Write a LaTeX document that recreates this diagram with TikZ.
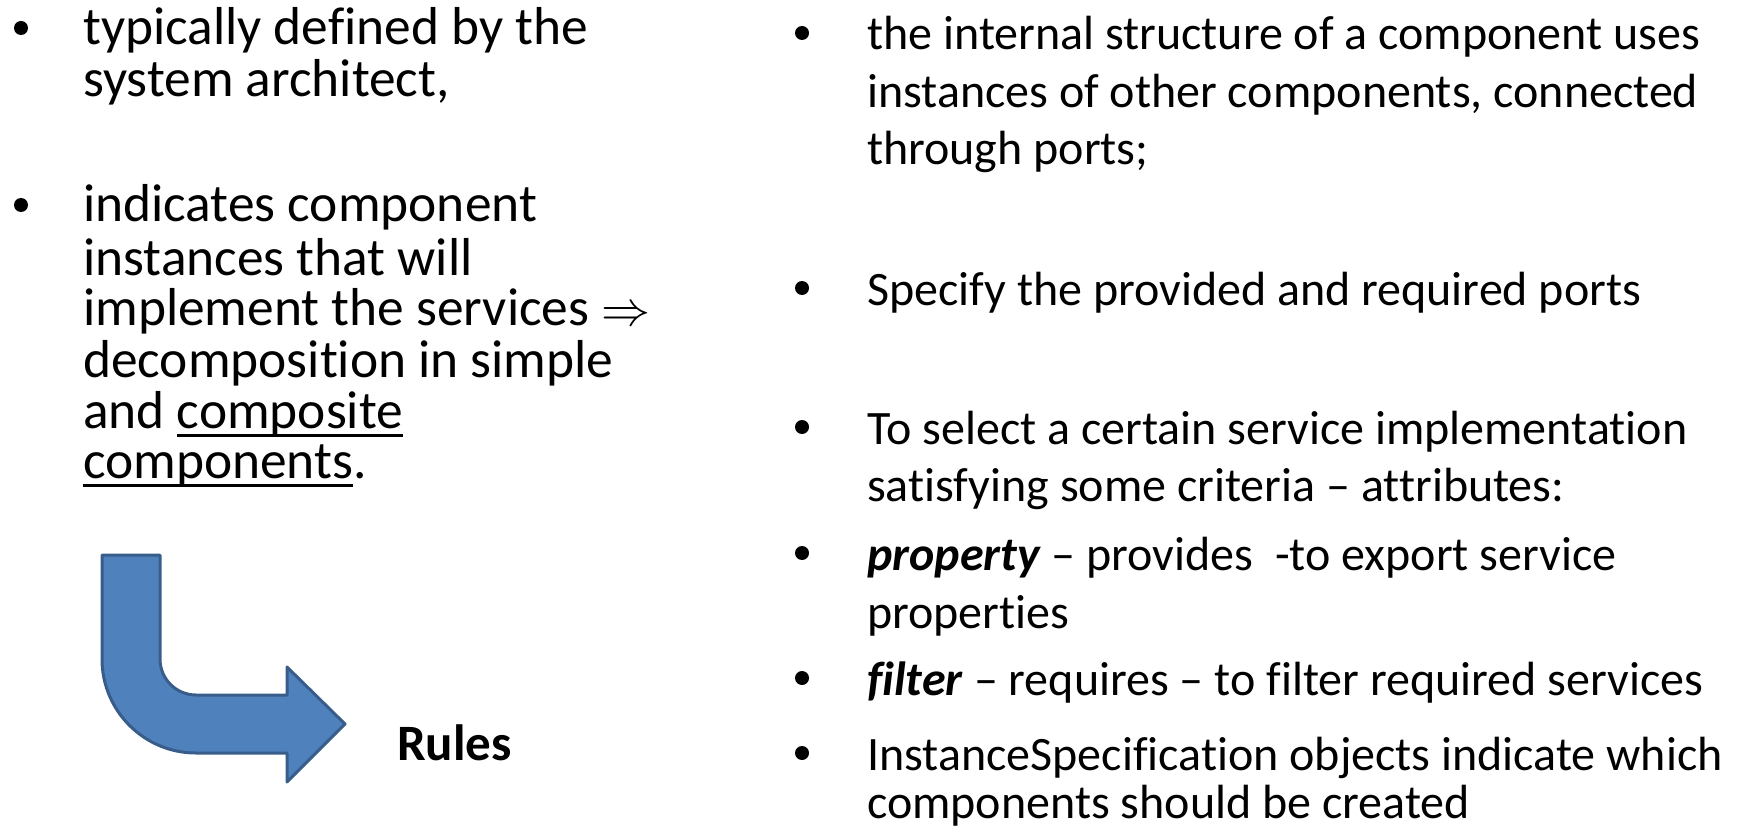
\documentclass[tikz,border=0pt]{standalone}
\usepackage{graphicx}
\usepackage{fontspec}
\setmainfont[Ligatures=NoCommon]{Carlito}
% underline that sits just below the baseline, as in slide text
\newcommand{\ulword}[1]{\setbox0\hbox{#1}\rlap{\rule[-8.5pt]{\wd0}{3pt}}\box0}
% large implication arrow, scaled from a 10pt symbol
\newcommand{\bigimplies}{\scalebox{4.9}{\fontsize{10}{12}\selectfont$\Rightarrow$}}
\definecolor{arrowfill}{HTML}{4F81BD}
\definecolor{arrowline}{HTML}{385D8A}
\tikzset{
  lefttext/.style={anchor=base west, inner sep=0pt, font=\fontsize{53.4}{64}\selectfont},
  righttext/.style={anchor=base west, inner sep=0pt, font=\fontsize{48}{57}\selectfont},
  rulestext/.style={anchor=base west, inner sep=0pt, font=\fontsize{51}{61}\selectfont\bfseries},
  bulletdot/.style={fill=black},
  bentarrow/.style={fill=arrowfill, draw=arrowline, line width=3pt, line join=round},
}
\begin{document}
\begin{tikzpicture}[x=1pt, y=-1pt]
  \useasboundingbox (0,0) rectangle (1740,829);

  % left column
  \fill[bulletdot] (21,28) circle (7);
  \node[lefttext] (l1) at (83,45)  {typically defined by the};
  \node[lefttext] (l2) at (83,97)  {system architect,};
  \fill[bulletdot] (21,205) circle (7);
  \node[lefttext] (l3) at (83,222) {indicates component};
  \node[lefttext] (l4) at (83,275) {instances that will};
  \node[lefttext] (l5) at (83,325) {implement the services \bigimplies};
  \node[lefttext] (l6) at (83,377) {decomposition in simple};
  \node[lefttext] (l7) at (83,428) {and \ulword{composite}};
  \node[lefttext] (l8) at (83,478) {\ulword{components}.};

  % bent arrow
  \draw[bentarrow] (102,555) -- (160,555) -- (160,659)
    arc[start angle=180, end angle=90, radius=36]
    -- (287,695) -- (287,667) -- (345,724) -- (287,782) -- (287,753)
    -- (196,753)
    arc[start angle=90, end angle=180, radius=94]
    -- cycle;
  \node[rulestext] (rules) at (397,760) {Rules};

  % right column
  \fill[bulletdot] (802,33) circle (7);
  \node[righttext] (r1) at (867,50)  {the internal structure of a component uses};
  \node[righttext] (r2) at (867,108) {instances of other components, connected};
  \node[righttext] (r3) at (867,165) {through ports;};
  \fill[bulletdot] (802,288) circle (7);
  \node[righttext] (r4) at (867,305) {Specify the provided and required ports};
  \fill[bulletdot] (802,427) circle (7);
  \node[righttext] (r5) at (867,444) {To select a certain service implementation};
  \node[righttext] (r6) at (867,501) {satisfying some criteria – attributes:};
  \fill[bulletdot] (802,553) circle (7);
  \node[righttext] (r7) at (867,570) {\textbf{\textit{property}} – provides~ -to export service};
  \node[righttext] (r8) at (867,628) {properties};
  \fill[bulletdot] (802,678) circle (7);
  \node[righttext] (r9) at (867,695) {\textbf{\textit{filter}} – requires – to filter required services};
  \fill[bulletdot] (802,753) circle (7);
  \node[righttext] (r10) at (867,770) {InstanceSpecification objects indicate which};
  \node[righttext] (r11) at (867,818) {components should be created};
\end{tikzpicture}
\end{document}
